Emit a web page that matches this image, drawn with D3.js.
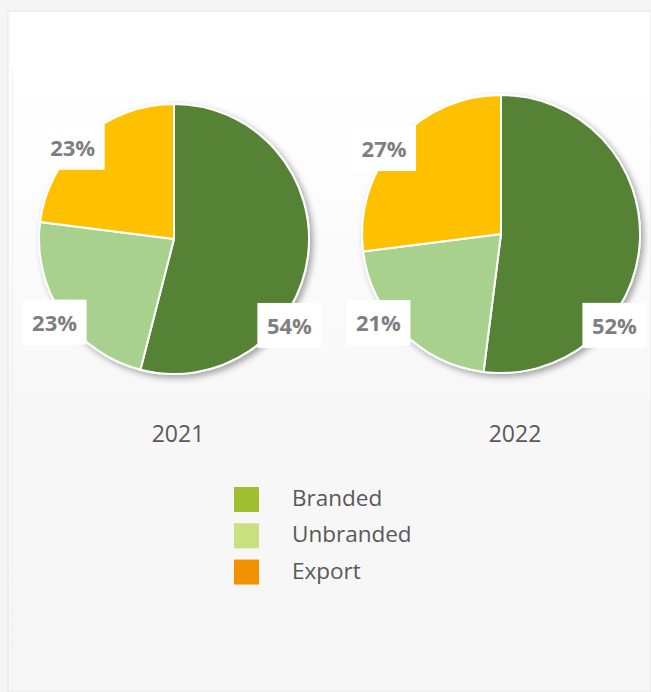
<!DOCTYPE html>
<html>
<head>
<meta charset="utf-8">
<script src="https://cdn.jsdelivr.net/npm/d3@7"></script>
<style>
  html, body { margin: 0; padding: 0; background: #f5f5f5; }
  svg { display: block; }
</style>
</head>
<body>
<div id="chart"></div>
<script>
// ---- data ----
const categories = ["Branded", "Unbranded", "Export"];
const years = ["2021", "2022"];
const values2021 = [54, 23, 23];
const values2022 = [52, 21, 27];
const seriesValues = [values2021, values2022];

// ---- styling / layout ----
const W = 651, H = 692;
const pieColors = ["#548235", "#a9d18e", "#ffc000"];
const legendColors = ["#a0bf30", "#c9df80", "#f39200"];
const pieLayout = [
  { cx: 174, cy: 239, r: 135, labelAngle: [127, 235, 312], labelDist: [1.07, 1.08, 1.01], yearX: 178 },
  { cx: 501, cy: 234, r: 139, labelAngle: [129, 234, 306], labelDist: [1.05, 1.09, 1.04], yearX: 515 }
];

const svg = d3.select("#chart").append("svg")
  .attr("width", W).attr("height", H);

const defs = svg.append("defs");
const grad = defs.append("linearGradient").attr("id", "bg")
  .attr("x1", 0).attr("y1", 0).attr("x2", 0).attr("y2", 1);
grad.append("stop").attr("offset", "0%").attr("stop-color", "#ffffff");
grad.append("stop").attr("offset", "8%").attr("stop-color", "#ffffff");
grad.append("stop").attr("offset", "60%").attr("stop-color", "#f7f7f7");
grad.append("stop").attr("offset", "100%").attr("stop-color", "#f6f6f6");

const shadow = defs.append("filter").attr("id", "shadow")
  .attr("x", "-20%").attr("y", "-20%").attr("width", "140%").attr("height", "140%");
shadow.append("feDropShadow").attr("dx", 3).attr("dy", 3)
  .attr("stdDeviation", 3).attr("flood-color", "#000").attr("flood-opacity", 0.35);

// background card
svg.append("rect").attr("x", 0).attr("y", 0).attr("width", W).attr("height", H).attr("fill", "#f5f5f5");
svg.append("rect").attr("x", 8).attr("y", 11).attr("width", W - 8).attr("height", H - 11)
  .attr("fill", "url(#bg)").attr("stroke", "#e6e6e6").attr("stroke-width", 1);
svg.append("line").attr("x1", 12.5).attr("x2", 12.5).attr("y1", 70).attr("y2", H)
  .attr("stroke", "#f0f0f0").attr("stroke-width", 1);

const pie = d3.pie().sort(null).value(d => d);
const color = d3.scaleOrdinal().domain(categories).range(pieColors);

years.forEach((year, yi) => {
  const L = pieLayout[yi];
  const arcs = pie(seriesValues[yi]);
  const arc = d3.arc().innerRadius(0).outerRadius(L.r);
  const g = svg.append("g").attr("transform", `translate(${L.cx},${L.cy})`);

  g.append("g").attr("filter", "url(#shadow)")
    .selectAll("path").data(arcs).enter().append("path")
    .attr("d", arc)
    .attr("fill", (d, i) => color(categories[i]))
    .attr("stroke", "#ffffff")
    .attr("stroke-width", 2)
    .attr("stroke-linejoin", "round");

  // data labels
  const lab = g.selectAll("g.lab").data(arcs).enter().append("g").attr("class", "lab")
    .attr("transform", (d, i) => {
      const a = L.labelAngle[i] * Math.PI / 180;
      const rr = L.r * L.labelDist[i];
      return `translate(${rr * Math.sin(a)},${-rr * Math.cos(a)})`;
    });
  lab.append("rect").attr("x", -32).attr("y", -23).attr("width", 64).attr("height", 45)
    .attr("fill", "#ffffff");
  lab.append("text")
    .attr("text-anchor", "middle")
    .attr("y", 8)
    .attr("font-family", "'Open Sans', sans-serif")
    .attr("font-weight", 700)
    .attr("font-size", 22)
    .attr("fill", "#7f7f7f")
    .text(d => d.data + "%");

  // year label
  svg.append("text")
    .attr("x", L.yearX).attr("y", 442)
    .attr("text-anchor", "middle")
    .attr("font-family", "'Open Sans', sans-serif")
    .attr("font-size", 23)
    .attr("fill", "#595959")
    .text(year);
});

// legend
const legendY = d3.scaleBand().domain(categories).range([487, 594]).paddingInner(0.05);
const lg = svg.append("g");
categories.forEach((c, i) => {
  lg.append("rect").attr("x", 234).attr("y", legendY(c))
    .attr("width", 25).attr("height", 25).attr("fill", legendColors[i]);
  lg.append("text").attr("x", 292).attr("y", legendY(c) + 19)
    .attr("font-family", "'Open Sans', sans-serif")
    .attr("font-size", 22.5)
    .attr("fill", "#595959")
    .text(c);
});
</script>
</body>
</html>
